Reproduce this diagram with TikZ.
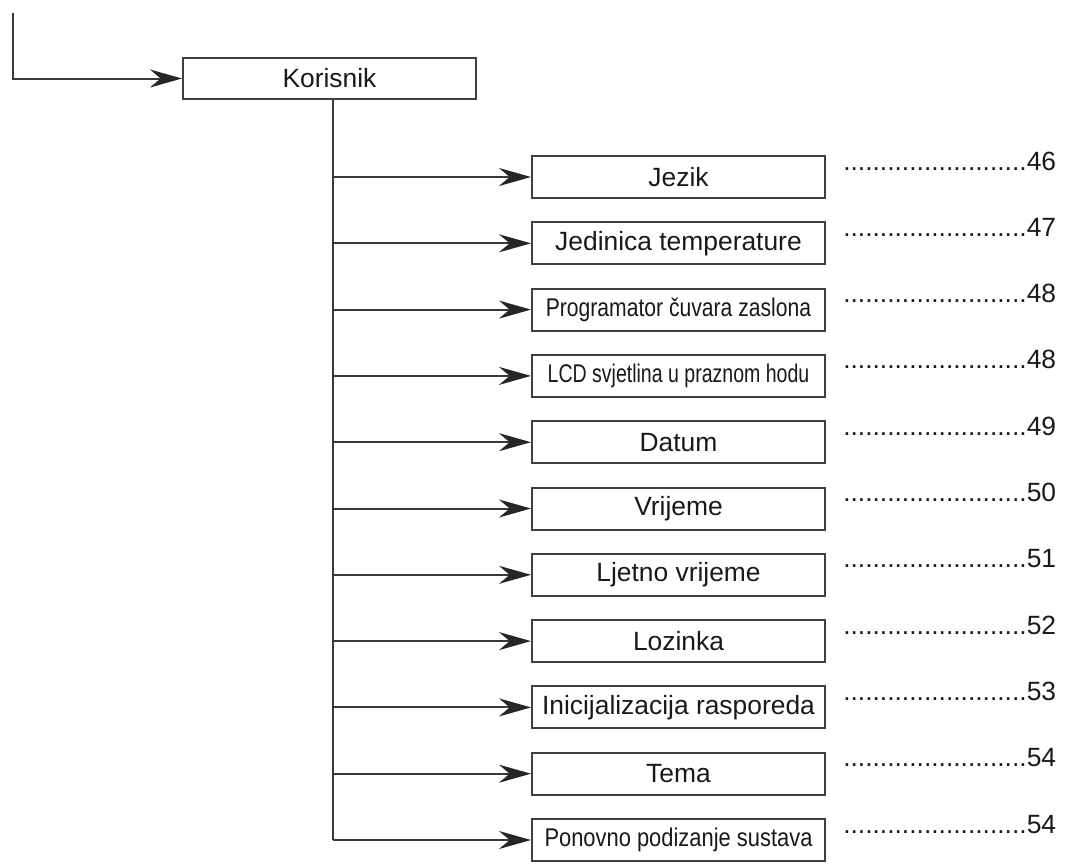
\documentclass[tikz,border=0pt]{standalone}
\usepackage{fontspec}
\usepackage{graphicx}
\setmainfont{Liberation Sans}
\usetikzlibrary{arrows.meta}
\begin{document}
\begin{tikzpicture}[x=0.75pt,y=-0.75pt,
  line/.style={draw=black!78, line width=1.5pt},
  arr/.style={line, -{Stealth[length=24pt,width=13.5pt,inset=8pt,color=black!85]}},
  box/.style={draw=black!75, line width=1.5pt, minimum width=219.75pt, minimum height=31.5pt, inner sep=0pt, font=\fontsize{19.8}{22}\selectfont, text=black!90},
  pg/.style={anchor=base west, inner sep=0pt, font=\fontsize{19.8}{22}\selectfont, text=black!90}]
\useasboundingbox (0,0) rectangle (1065,865);
\node[box, minimum height=30.75pt] (kor) at (329.5,78.5) {Korisnik};
\coordinate (start) at (13,13);
\draw[arr] (start) |- (kor.west);
\coordinate (trunk) at (333,840);
\draw[line] (kor.south -| trunk) -- (trunk);
\foreach \i/\t/\n in {
  0/{Jezik}/46,
  1/{Jedinica temperature}/47,
  2/{\scalebox{0.8}[0.97]{Programator čuvara zaslona}}/48,
  3/{\scalebox{0.74}[0.97]{LCD svjetlina u praznom hodu}}/48,
  4/{Datum}/49,
  5/{Vrijeme}/50,
  6/{Ljetno vrijeme}/51,
  7/{Lozinka}/52,
  8/{Inicijalizacija rasporeda}/53,
  9/{Tema}/54,
  10/{\scalebox{0.83}[0.97]{Ponovno podizanje sustava}}/54}
{
  \node[box] (b\i) at (678.5, 177+66.3*\i) {\t};
  \draw[arr] (trunk |- b\i.west) -- (b\i.west);
  \node[pg] (p\i) at (843, 170+66.3*\i) {.........................\n};
}
\end{tikzpicture}
\end{document}
